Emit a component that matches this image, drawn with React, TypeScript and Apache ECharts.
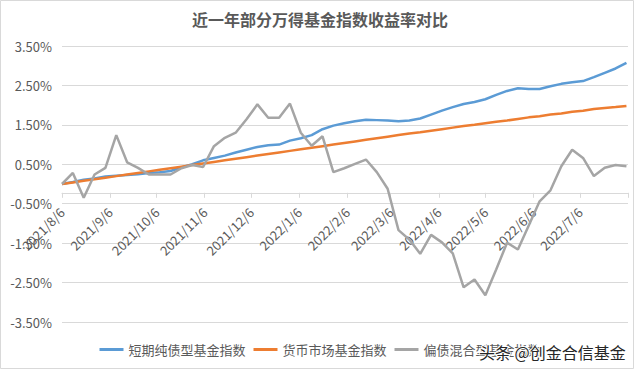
import { useEffect, useRef } from 'react';
import * as echarts from 'echarts';

const titleText = '近一年部分万得基金指数收益率对比';
const seriesNames = ['短期纯债型基金指数', '货币市场基金指数', '偏债混合型基金指数'];
const watermark = '头条 @创金合信基金';

const dates = [
  '2021/8/6', '2021/8/13', '2021/8/20', '2021/8/27',
  '2021/9/3', '2021/9/10', '2021/9/17', '2021/9/24',
  '2021/10/1', '2021/10/8', '2021/10/15', '2021/10/22', '2021/10/29',
  '2021/11/5', '2021/11/12', '2021/11/19', '2021/11/26',
  '2021/12/3', '2021/12/10', '2021/12/17', '2021/12/24', '2021/12/31',
  '2022/1/7', '2022/1/14', '2022/1/21', '2022/1/28',
  '2022/2/4', '2022/2/11', '2022/2/18', '2022/2/25',
  '2022/3/4', '2022/3/11', '2022/3/18', '2022/3/25',
  '2022/4/1', '2022/4/8', '2022/4/15', '2022/4/22', '2022/4/29',
  '2022/5/6', '2022/5/13', '2022/5/20', '2022/5/27',
  '2022/6/3', '2022/6/10', '2022/6/17', '2022/6/24',
  '2022/7/1', '2022/7/8', '2022/7/15', '2022/7/22', '2022/7/29',
  '2022/8/5',
];

const tickLabels = [
  '2021/8/6', '2021/9/6', '2021/10/6', '2021/11/6', '2021/12/6', '2022/1/6',
  '2022/2/6', '2022/3/6', '2022/4/6', '2022/5/6', '2022/6/6', '2022/7/6',
];
const axisStart = '2021/8/6';
const axisEnd = '2022/8/6';
const yMin = -3.5;
const yMax = 3.5;
const yStep = 1;

// values in %
const shortBond = [
  0, 0.05, 0.11, 0.14, 0.19, 0.21, 0.23, 0.25, 0.28, 0.30,
  0.33, 0.42, 0.50, 0.60, 0.66, 0.72, 0.80, 0.87, 0.94, 0.98,
  1.00, 1.10, 1.16, 1.24, 1.39, 1.48, 1.54, 1.59, 1.63, 1.62,
  1.61, 1.59, 1.61, 1.66, 1.76, 1.86, 1.95, 2.03, 2.08, 2.15,
  2.26, 2.36, 2.43, 2.41, 2.41, 2.48, 2.54, 2.58, 2.61, 2.71,
  2.82, 2.93, 3.07,
];
const moneyMarket = [
  0, 0.04, 0.08, 0.12, 0.16, 0.20, 0.24, 0.28, 0.32, 0.36,
  0.40, 0.44, 0.48, 0.52, 0.56, 0.60, 0.64, 0.68, 0.72, 0.76,
  0.80, 0.84, 0.88, 0.92, 0.96, 1.00, 1.04, 1.08, 1.12, 1.16,
  1.20, 1.24, 1.28, 1.31, 1.35, 1.39, 1.43, 1.47, 1.50, 1.54,
  1.58, 1.61, 1.65, 1.69, 1.72, 1.76, 1.79, 1.83, 1.86, 1.90,
  1.93, 1.95, 1.98,
];
const hybridBond = [
  0, 0.28, -0.35, 0.24, 0.41, 1.24, 0.55, 0.41, 0.24, 0.24,
  0.24, 0.40, 0.48, 0.43, 0.96, 1.17, 1.30, 1.64, 2.02, 1.68,
  1.68, 2.04, 1.30, 0.97, 1.21, 0.30, 0.40, 0.51, 0.62, 0.30,
  -0.12, -1.17, -1.41, -1.77, -1.29, -1.48, -1.76, -2.62, -2.42, -2.82,
  -2.17, -1.49, -1.66, -1.05, -0.44, -0.16, 0.45, 0.87, 0.66, 0.20,
  0.41, 0.48, 0.45,
];

const colors = ['#5B9BD5', '#ED7D31', '#A5A5A5'];
const FONT = "'Noto Sans CJK SC', 'Noto Sans', sans-serif";

const fmt = (d: Date) => `${d.getFullYear()}/${d.getMonth() + 1}/${d.getDate()}`;
const parse = (s: string) => s.split('/').map(Number);

// every calendar day of the date axis (the axis is a date axis in the original)
const dayCategories: string[] = (() => {
  const [y, m, d] = parse(axisStart);
  const out: string[] = [];
  for (let i = 0; ; i++) {
    const s = fmt(new Date(y, m - 1, d + i));
    out.push(s);
    if (s === axisEnd || i > 1000) break;
  }
  return out;
})();

export default function App() {
  const ref = useRef<HTMLDivElement>(null);
  useEffect(() => {
    if (!ref.current) return;
    const chart = echarts.init(ref.current, undefined, { renderer: 'svg' });
    const allSeries = [shortBond, moneyMarket, hybridBond];
    const labelSet = new Set(tickLabels);
    const tickSet = new Set([...tickLabels, axisEnd]);
    chart.setOption({
      animation: false,
      backgroundColor: '#ffffff',
      color: colors,
      textStyle: { fontFamily: FONT },
      title: {
        text: titleText,
        left: 'center',
        top: 6,
        textStyle: { fontSize: 16, fontWeight: 'bold', color: '#595959', fontFamily: FONT },
      },
      legend: {
        bottom: 10,
        left: 'center',
        icon: 'rect',
        itemWidth: 24,
        itemHeight: 3,
        itemGap: 8,
        textStyle: { fontSize: 13, color: '#595959', fontFamily: FONT },
        data: seriesNames,
      },
      grid: { left: 62, right: 12, top: 46, bottom: 49 },
      xAxis: {
        type: 'category',
        boundaryGap: false,
        data: dayCategories,
        offset: 0,
        axisLine: { onZero: false, lineStyle: { color: '#d9d9d9', width: 1 } },
        axisTick: {
          show: true,
          length: 5,
          alignWithLabel: true,
          interval: (_i: number, v: string) => tickSet.has(v),
          lineStyle: { color: '#d9d9d9' },
        },
        axisLabel: {
          interval: (_i: number, v: string) => labelSet.has(v),
          rotate: 45,
          margin: 17,
          fontSize: 13,
          color: '#595959',
          fontFamily: FONT,
        },
        splitLine: { show: false },
      },
      yAxis: {
        type: 'value',
        min: yMin,
        max: yMax,
        interval: yStep,
        axisLine: { show: false },
        axisTick: { show: false },
        axisLabel: {
          fontSize: 13,
          color: '#595959',
          margin: 10,
          fontFamily: FONT,
          formatter: (v: number) => `${v.toFixed(2)}%`,
        },
        splitLine: { lineStyle: { color: '#d9d9d9', width: 1 } },
      },
      series: seriesNames.map((name, k) => ({
        name,
        type: 'line',
        symbol: 'none',
        lineStyle: { width: 2.5, color: colors[k] },
        data: dates.map((d, i) => [d, allSeries[k][i]]),
      })),
      graphic: [
        {
          type: 'rect',
          shape: { x: 0.5, y: 0.5, width: 633, height: 368 },
          style: { fill: 'none', stroke: '#d9d9d9', lineWidth: 1 },
          silent: true,
        },
        {
          type: 'text',
          left: 478,
          top: 343,
          z: 100,
          style: {
            text: watermark,
            fontSize: 16,
            fontFamily: FONT,
            fill: '#262626',
            stroke: '#ffffff',
            lineWidth: 2,
          },
        },
      ],
    });
    // place the date axis on the 0% line, using the value axis' own scale
    const zeroY = chart.convertToPixel({ yAxisIndex: 0 }, 0) as number;
    const bottomY = chart.convertToPixel({ yAxisIndex: 0 }, yMin) as number;
    if (isFinite(zeroY) && isFinite(bottomY)) {
      chart.setOption({ xAxis: { offset: zeroY - bottomY } });
    }
    return () => chart.dispose();
  }, []);
  return (
    <div
      ref={ref}
      style={{ position: 'absolute', left: 0, top: 0, width: 640, height: 371, background: '#fff' }}
    />
  );
}
